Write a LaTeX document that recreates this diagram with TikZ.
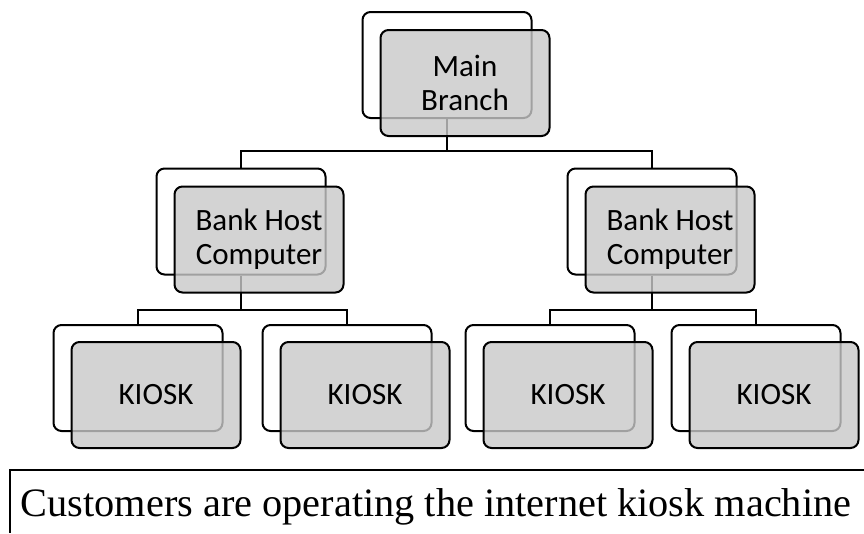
\documentclass[tikz,border=0pt]{standalone}
\usepackage{fontspec}
\setmainfont{Carlito}
\newfontfamily\capserif{Liberation Serif}
\usetikzlibrary{calc}
\definecolor{boxfill}{HTML}{C8C8C8}
\definecolor{edge}{HTML}{000000}
\pgfdeclarelayer{back}
\pgfsetlayers{back,main}
\tikzset{
  shadowbox/.style={draw=edge, line width=2pt, fill=white, rounded corners=8pt,
    minimum width=169pt, minimum height=106pt, inner sep=0pt},
  unitbox/.style={shadowbox, fill=boxfill, fill opacity=0.8, text opacity=1,
    align=center, font=\fontsize{31}{34}\selectfont},
  link/.style={draw=edge, line width=2pt},
  capline/.style={draw=edge, line width=1.2pt},
  lab/.style={font=\capserif\fontsize{40.3}{46}\selectfont}
}

\begin{document}
\begin{tikzpicture}[x=1pt, y=-1pt]
  \useasboundingbox (0,0) rectangle (864,533);

  % top of the tree
  \node[shadowbox] (main-b) at (447,65) {};
  \node[unitbox] (main) at ($(main-b)+(18,18)$) {Main\\Branch};

  % host computers
  \node[shadowbox] (hostL-b) at (241,221.5) {};
  \node[unitbox] (hostL) at ($(hostL-b)+(18,18)$) {Bank Host\\Computer};
  \node[shadowbox] (hostR-b) at (652,221.5) {};
  \node[unitbox] (hostR) at ($(hostR-b)+(18,18)$) {Bank Host\\Computer};

  % kiosks
  \foreach \n/\x in {k1/138, k2/347, k3/550, k4/756} {
    \node[shadowbox] (\n-b) at (\x,378) {};
    \node[unitbox] (\n) at ($(\n-b)+(18,17)$) {KIOSK};
  }

  \begin{pgfonlayer}{back}
    \draw[link] (main-b.south) -- ++(0,32);
    \draw[link] (hostL-b.north) |- ($(main-b.south)+(0,32)$) -| (hostR-b.north);
    \draw[link] (hostL-b.south) -- ++(0,34);
    \draw[link] (k1-b.north) |- ($(hostL-b.south)+(0,34)$) -| (k2-b.north);
    \draw[link] (hostR-b.south) -- ++(0,34);
    \draw[link] (k3-b.north) |- ($(hostR-b.south)+(0,34)$) -| (k4-b.north);
  \end{pgfonlayer}

  % caption box
  \coordinate (capTL) at (10,470);
  \draw[capline] (864,470) -- (capTL) -- (10,533);
  \node[lab, anchor=base] (caption) at (436,516) {Customers are operating the internet kiosk machine};
\end{tikzpicture}
\end{document}
